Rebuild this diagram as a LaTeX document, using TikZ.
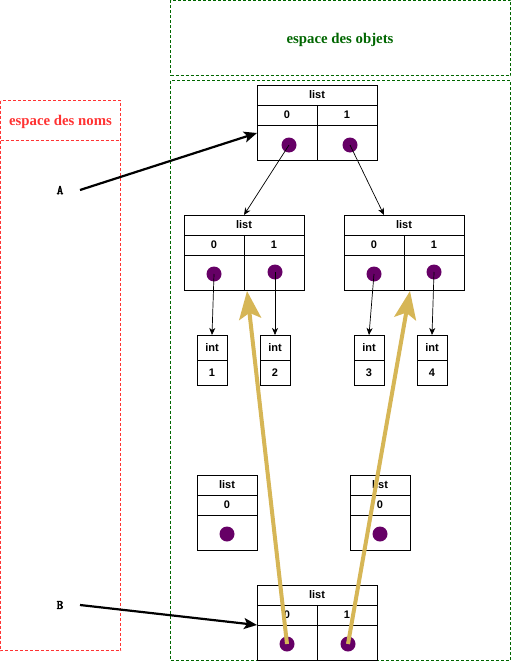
\documentclass[tikz,border=0pt]{standalone}
\usepackage{fontspec}
\setmainfont{Liberation Serif}
\setsansfont{Liberation Sans}
\newfontfamily\varfont[AutoFakeBold=3]{Latin Modern Mono}
\usetikzlibrary{arrows.meta,calc}
\definecolor{objgreen}{HTML}{006600}
\definecolor{nomred}{HTML}{FF3333}
\definecolor{dotpurple}{HTML}{660066}
\definecolor{gold}{HTML}{D6B656}
\tikzset{
  cell/.style={draw=black, line width=0.9pt, inner sep=0pt, outer sep=0pt, font=\sffamily\bfseries\fontsize{11}{12}\selectfont, anchor=north west},
  pdot/.style={circle, fill=dotpurple, minimum size=15pt, inner sep=0pt},
  ptr/.style={-{Stealth[length=7pt,width=6pt,inset=2pt]}, line width=0.7pt},
  namearrow/.style={-{Stealth[length=13pt,width=11pt,inset=3pt]}, line width=2.2pt},
  goldarrow/.style={draw=gold, -{Stealth[length=28pt,width=22pt,inset=6pt]}, line width=4pt},
  zone/.style={draw, dashed, dash pattern=on 3pt off 2pt, line width=0.8pt},
  varname/.style={font=\varfont\bfseries\fontsize{13}{13}\selectfont},
}
% two-slot list: name, x, y (top-left)
\newcommand{\mklisttwo}[3]{%
  \node[cell, minimum width=120pt, minimum height=20pt] (#1-h) at (#2,#3) {list};
  \node[cell, minimum width=60pt, minimum height=20pt] (#1-i0) at (#2,#3+20) {0};
  \node[cell, minimum width=60pt, minimum height=20pt] (#1-i1) at (#2+60,#3+20) {1};
  \node[cell, minimum width=60pt, minimum height=35pt] (#1-v0) at (#2,#3+40) {};
  \node[cell, minimum width=60pt, minimum height=35pt] (#1-v1) at (#2+60,#3+40) {};
}
\newcommand{\mklistone}[3]{%
  \node[cell, minimum width=60pt, minimum height=20pt] (#1-h) at (#2,#3) {list};
  \node[cell, minimum width=60pt, minimum height=20pt] (#1-i0) at (#2,#3+20) {0};
  \node[cell, minimum width=60pt, minimum height=35pt] (#1-v0) at (#2,#3+40) {};
}
\newcommand{\mkint}[4]{%
  \node[cell, minimum width=30pt, minimum height=25pt] (#1-h) at (#2,#3) {int};
  \node[cell, minimum width=30pt, minimum height=25pt] (#1-v) at (#2,#3+25) {#4};
}
\begin{document}
\begin{tikzpicture}[x=1pt,y=-1pt]
\useasboundingbox (0,0) rectangle (511,661);
% zones
\draw[zone, draw=objgreen] (170.5,0.5) rectangle (510.5,75.5);
\node[text=objgreen, font=\bfseries\fontsize{14.8}{15}\selectfont] (objtitle) at (340,40) {espace des objets};
\draw[zone, draw=objgreen] (170.5,80.5) rectangle (510.5,660);
\draw[zone, draw=nomred] (0.5,100.5) rectangle (120.5,650.5);
\draw[zone, draw=nomred] (0.5,140.5) -- (120.5,140.5);
\node[text=nomred, font=\bfseries\fontsize{14.8}{15}\selectfont] (nomtitle) at (60.5,122) {espace des noms};
% lists
\mklisttwo{top}{257}{85}
\mklisttwo{ml}{184}{215}
\mklisttwo{mr}{344}{215}
\mklistone{bl}{197}{475}
\mklistone{br}{350}{475}
\mklisttwo{bot}{257}{585}
\mkint{i1}{197}{335}{1}
\mkint{i2}{260}{335}{2}
\mkint{i3}{354}{335}{3}
\mkint{i4}{417}{335}{4}
% dots
\node[pdot] (top-d0) at (289,145) {};
\node[pdot] (top-d1) at (350,145) {};
\node[pdot] (ml-d0) at (214,274) {};
\node[pdot] (ml-d1) at (275,272) {};
\node[pdot] (mr-d0) at (374,274) {};
\node[pdot] (mr-d1) at (434,272) {};
\node[pdot] (bl-d0) at (227,534) {};
\node[pdot] (br-d0) at (380,534) {};
\node[pdot] (bot-d0) at (287,644) {};
\node[pdot] (bot-d1) at (348,644) {};
% pointers
\coordinate (mr-in) at (384,215);
\draw[ptr] (top-d0.center) -- (ml-h.north);
\draw[ptr] (top-d1.center) -- (mr-in);
\draw[ptr] (ml-d0.center) -- (i1-h.north);
\draw[ptr] (ml-d1.center) -- (i2-h.north);
\draw[ptr] (mr-d0.center) -- (i3-h.north);
\draw[ptr] (mr-d1.center) -- (i4-h.north);
% names
\node[varname] (A) at (60,190) {A};
\node[varname] (B) at (60,605) {B};
\coordinate (topin) at (257,133);
\coordinate (botin) at (257,625);
\draw[namearrow] (80,190) -- (topin);
\draw[namearrow] (80,605) -- (botin);
% gold references
\coordinate (mlin) at (247,291);
\coordinate (mrin) at (410,291);
\draw[goldarrow] (bot-d0.center) -- (mlin);
\draw[goldarrow] (bot-d1.center) -- (mrin);
\end{tikzpicture}
\end{document}
